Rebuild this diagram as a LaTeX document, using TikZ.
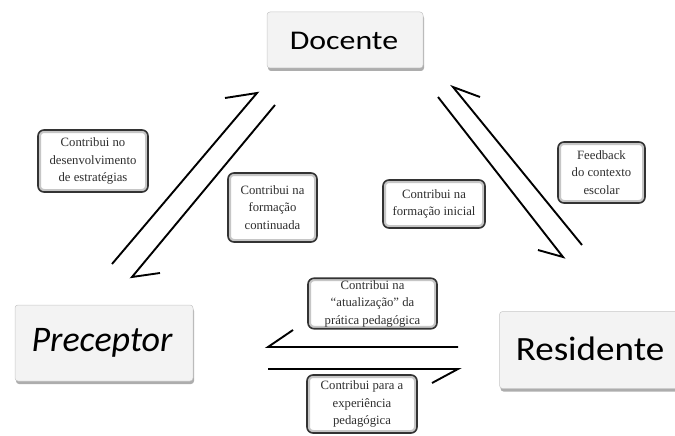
\documentclass[tikz,border=0pt]{standalone}
\usepackage{fontspec}
\setmainfont{Liberation Serif}
\newfontfamily\carlito{Carlito}
\newfontfamily\notefont{Liberation Serif}
\usetikzlibrary{shadows}
\definecolor{boxgray}{HTML}{F3F3F3}
\definecolor{txtgray}{HTML}{2E2E2E}
\tikzset{
  bigbox/.style={draw=gray!45, line width=0.5pt, fill=boxgray, rounded corners=3pt,
    drop shadow={shadow xshift=1pt, shadow yshift=-3pt, fill=gray!75, opacity=0.85}},
  notebox/.style={draw=black!80, line width=1.6pt, fill=white, rounded corners=6pt,
    align=center, inner sep=2pt, text=txtgray,
    font=\notefont\fontsize{12.7}{17.5}\selectfont,
    path picture={\draw[gray!45, line width=6pt, rounded corners=6pt]
      (path picture bounding box.south west) rectangle (path picture bounding box.north east);}},
  harp/.style={line width=1.9pt, line join=miter, line cap=butt}
}
\begin{document}
\begin{tikzpicture}[x=1pt, y=-1pt]
\path[use as bounding box] (0,0) rectangle (675,436);
\clip (0,0) rectangle (675,436);

% big boxes
\node[bigbox, minimum width=156pt, minimum height=56pt] (doc) at (345,40) {};
\node[font=\carlito\fontsize{27}{30}\selectfont] (doct) at (344,41) {\scalebox{1.18}[1]{Docente}};
\node[bigbox, minimum width=178pt, minimum height=76pt] (pre) at (104,343) {};
\node[font=\carlito\itshape\fontsize{36}{40}\selectfont] (pret) at (102,343) {Preceptor};
\node[bigbox, minimum width=185pt, minimum height=77pt] (res) at (592,350) {};
\node[font=\carlito\fontsize{34}{38}\selectfont] (rest) at (590,349) {\scalebox{1.09}[1]{Residente}};

% note boxes
\node[notebox, minimum width=110pt, minimum height=62pt] (n1) at (93,161)
  {Contribui no\\desenvolvimento\\de estratégias};
\node[notebox, minimum width=89pt, minimum height=69pt] (n2) at (272.5,207.5)
  {Contribui na\\formação\\continuada};
\node[notebox, minimum width=102pt, minimum height=48pt] (n3) at (434,204)
  {Contribui na\\formação inicial};
\node[notebox, minimum width=87pt, minimum height=61pt] (n4) at (601.5,172.5)
  {Feedback\\do contexto\\escolar};
\node[notebox, minimum width=129pt, minimum height=50pt] (n5) at (372.5,303.5)
  {Contribui na\\“atualização” da\\prática pedagógica};
\node[notebox, minimum width=110pt, minimum height=58pt] (n6) at (362,404)
  {Contribui para a\\experiência\\pedagógica};

% harpoon coordinates
\coordinate (l1s) at (112,264); \coordinate (l1t) at (257,93); \coordinate (l1b) at (225,98);
\coordinate (l2s) at (275,105); \coordinate (l2t) at (132,277); \coordinate (l2b) at (160,273);
\coordinate (r1s) at (438,97);  \coordinate (r1t) at (563,257); \coordinate (r1b) at (538,250);
\coordinate (r2s) at (582,245); \coordinate (r2t) at (453,87);  \coordinate (r2b) at (480,97);
\coordinate (b1s) at (458,347); \coordinate (b1t) at (268,347); \coordinate (b1b) at (293,330);
\coordinate (b2s) at (268,369); \coordinate (b2t) at (458,369); \coordinate (b2b) at (432,383);

\draw[harp] (l1s) -- (l1t) -- (l1b);
\draw[harp] (l2s) -- (l2t) -- (l2b);
\draw[harp] (r1s) -- (r1t) -- (r1b);
\draw[harp] (r2s) -- (r2t) -- (r2b);
\draw[harp] (b1s) -- (b1t) -- (b1b);
\draw[harp] (b2s) -- (b2t) -- (b2b);
\end{tikzpicture}
\end{document}
